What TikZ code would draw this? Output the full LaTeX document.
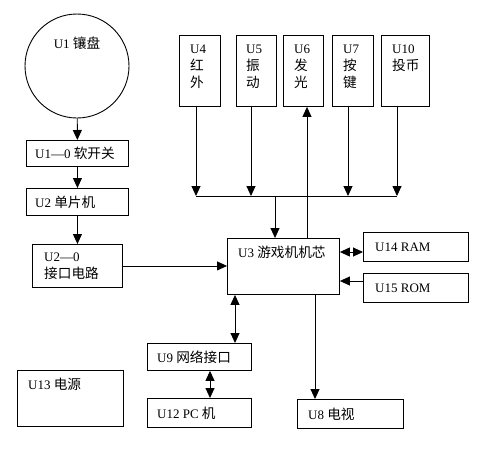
\documentclass[tikz,border=0pt]{standalone}
\usepackage{fontspec}
\setmainfont{Liberation Serif}
\newfontfamily\zh[Scale=1.05]{Noto Sans CJK SC}
\usetikzlibrary{arrows.meta,positioning}
\tikzset{
  blk/.style={draw, rectangle, inner sep=0pt, line width=0.9pt, anchor=north west},
  txt/.style={inner sep=0pt, font=\fontsize{13}{17}\selectfont, align=left},
  arr/.style={-{Triangle[length=10pt,width=9pt]}, line width=0.9pt},
  darr/.style={{Triangle[length=10pt,width=9pt]}-{Triangle[length=10pt,width=9pt]}, line width=0.9pt},
}

\begin{document}
\begin{tikzpicture}[x=1pt,y=-1pt]
  \useasboundingbox (0,0) rectangle (500,450);

  % --- Left column: disc, switch, MCU, interface ---
  \node[draw, circle, line width=0.9pt, minimum size=104pt, inner sep=0pt] (U1) at (77,66) {};
  \node[txt, below=23pt of U1.north] {U1 {\zh 镶盘}};

  \node[blk, minimum width=102pt, minimum height=26pt] (U1o) at (26,140) {};
  \node[txt, right=9pt of U1o.west] {U1—0 {\zh 软开关}};

  \node[blk, minimum width=102pt, minimum height=27pt] (U2) at (26,188) {};
  \node[txt, right=9pt of U2.west] {U2 {\zh 单片机}};

  \node[blk, minimum width=90pt, minimum height=43pt] (U2o) at (32,244) {};
  \node[txt, right=12pt of U2o.west] {U2—0\\{\zh 接口电路}};

  \node[blk, minimum width=106pt, minimum height=56pt] (U13) at (17,370) {};
  \node[txt, anchor=north west, below right=8pt and 11pt of U13.north west] {U13 {\zh 电源}};

  % --- Top row: peripherals ---
  \node[blk, minimum width=41pt, minimum height=71pt] (U4) at (179,35) {};
  \node[txt, anchor=north west, below right=10pt and 11pt of U4.north west] {U4\\{\zh 红}\\{\zh 外}};
  \node[blk, minimum width=40pt, minimum height=71pt] (U5) at (236,35) {};
  \node[txt, anchor=north west, below right=10pt and 10pt of U5.north west] {U5\\{\zh 振}\\{\zh 动}};
  \node[blk, minimum width=40pt, minimum height=71pt] (U6) at (283,35) {};
  \node[txt, anchor=north west, below right=10pt and 11pt of U6.north west] {U6\\{\zh 发}\\{\zh 光}};
  \node[blk, minimum width=41pt, minimum height=71pt] (U7) at (332,35) {};
  \node[txt, anchor=north west, below right=10pt and 11pt of U7.north west] {U7\\{\zh 按}\\{\zh 键}};
  \node[blk, minimum width=48pt, minimum height=71pt] (U10) at (381,35) {};
  \node[txt, anchor=north west, below right=10pt and 11pt of U10.north west] {U10\\{\zh 投币}};

  % --- Core and the rest ---
  \node[blk, minimum width=112pt, minimum height=56pt] (U3) at (227,238) {};
  \node[txt, anchor=north west, below right=8pt and 11pt of U3.north west] {U3 {\zh 游戏机机芯}};

  \node[blk, minimum width=105pt, minimum height=29pt] (U14) at (363,232) {};
  \node[txt, right=12pt of U14.west] {U14 RAM};
  \node[blk, minimum width=105pt, minimum height=29pt] (U15) at (363,273) {};
  \node[txt, right=12pt of U15.west] {U15 ROM};

  \node[blk, minimum width=104pt, minimum height=27pt] (U9) at (147,343) {};
  \node[txt, right=10pt of U9.west] {U9 {\zh 网络接口}};
  \node[blk, minimum width=104pt, minimum height=29pt] (U12) at (147,398) {};
  \node[txt, right=10pt of U12.west] {U12 PC {\zh 机}};
  \node[blk, minimum width=106pt, minimum height=29pt] (U8) at (297,399) {};
  \node[txt, right=11pt of U8.west] {U8 {\zh 电视}};

  % helper points for the connectors
  \coordinate (bus) at (275,196);
  \coordinate (p4) at (196,0);
  \coordinate (p5) at (251,0);
  \coordinate (p6) at (307,0);
  \coordinate (p7) at (348,0);
  \coordinate (p10) at (397,0);
  \coordinate (p8) at (315,0);
  \coordinate (p9) at (235,0);
  \coordinate (p12) at (210,0);
  \coordinate (p14) at (0,252);
  \coordinate (p15) at (0,281);

  % Connectors
  \draw[arr] (U1) -- (U1o);
  \draw[arr] (U1o) -- (U2);
  \draw[arr] (U2) -- (U2o);
  \draw[arr] (U2o.east) -- (U2o.east -| U3.west);

  \draw[arr] (U4.south -| p4) -- (bus -| p4);
  \draw[arr] (U5.south -| p5) -- (bus -| p5);
  \draw[arr] (U7.south -| p7) -- (bus -| p7);
  \draw[arr] (U10.south -| p10) -- (bus -| p10);
  \draw[line width=0.9pt] (bus -| p4) -- (bus -| p10);
  \draw[arr] (bus) -- (bus |- U3.north);
  \draw[arr] (U3.north -| p6) -- (U6.south -| p6);

  \draw[darr] (U3.east |- p14) -- (U14.west |- p14);
  \draw[arr] (U15.west |- p15) -- (U3.east |- p15);
  \draw[arr] (U3.south -| p8) -- (U8.north -| p8);
  \draw[darr] (U3.south -| p9) -- (U9.north -| p9);
  \draw[darr] (U9.south -| p12) -- (U12.north -| p12);
\end{tikzpicture}
\end{document}
